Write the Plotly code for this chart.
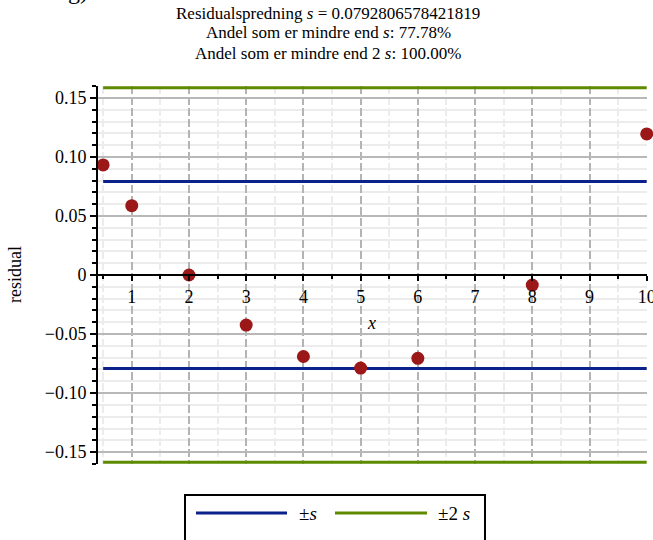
import plotly.graph_objects as go

# ---- data ----
s = 0.0792806578421819
x_vals = [0.5, 1, 2, 3, 4, 5, 6, 8, 10]
residuals = [0.0932, 0.0587, 0.0000, -0.0424, -0.0690, -0.0788, -0.0706, -0.0085, 0.1195]
line_x = [0.5, 10]
y_ticks = [-0.15, -0.10, -0.05, 0, 0.05, 0.10, 0.15]
y_ticktext = ["\u22120.15", "\u22120.10", "\u22120.05", "0", "0.05", "0.10", "0.15"]
title_lines = [
    "Residualspredning <i>s</i> = 0.0792806578421819",
    "Andel som er mindre end <i>s</i>: 77.78%",
    "Andel som er mindre end 2 <i>s</i>: 100.00%",
]
legend_labels = ["\u00b1<i>s</i>", "\u00b12 <i>s</i>"]

BLUE = "#0b228a"
GREEN = "#5e8a00"
RED = "#9c1818"
FONT = "'Liberation Serif', 'DejaVu Serif', serif"

W, H = 653, 540
L, R, T, B = 98, 6, 86, 76
pw, ph = W - L - R, H - T - B


def px2x(px):
    return (px - L) / pw


def px2y(py):
    return (H - B - py) / ph


fig = go.Figure()

# +-s lines
for sign in (1, -1):
    fig.add_trace(go.Scatter(x=line_x, y=[sign * s, sign * s], mode="lines",
                             line=dict(color=BLUE, width=3), showlegend=False,
                             hoverinfo="skip"))
# +-2s lines
for sign in (1, -1):
    fig.add_trace(go.Scatter(x=line_x, y=[sign * 2 * s, sign * 2 * s], mode="lines",
                             line=dict(color=GREEN, width=3), showlegend=False,
                             hoverinfo="skip"))
# residual points
fig.add_trace(go.Scatter(x=x_vals, y=residuals, mode="markers",
                         marker=dict(color=RED, size=13, symbol="circle", line=dict(width=0)),
                         cliponaxis=False, showlegend=False))

ymax = 2 * s + 0.0015

fig.update_layout(
    width=W, height=H, autosize=False,
    margin=dict(l=L, r=R, t=T, b=B, autoexpand=False),
    plot_bgcolor="white", paper_bgcolor="white",
    font=dict(family=FONT, size=18, color="black"),
    showlegend=False,
    xaxis=dict(
        range=[0.41, 10.005],
        tickmode="linear", tick0=0, dtick=1,
        showgrid=True, gridcolor="#b4b4b4", gridwidth=2, griddash="8px,3px",
        zeroline=False, automargin=False,
        showline=True, linecolor="black", linewidth=2,
        anchor="free", position=0.5, side="bottom",
        ticks="outside", ticklen=5, tickwidth=2, tickcolor="black",
        ticklabeloverflow="allow",
        tickfont=dict(family=FONT, size=18),
        minor=dict(dtick=0.5, tick0=0, showgrid=True, gridcolor="#ececec", gridwidth=2,
                   ticks="outside", ticklen=3, tickwidth=2, tickcolor="black"),
    ),
    yaxis=dict(
        range=[-ymax, ymax],
        tickmode="array", tickvals=y_ticks, ticktext=y_ticktext,
        showgrid=True, gridcolor="#b8b8b8", gridwidth=2,
        zeroline=False, automargin=False,
        showline=True, linecolor="black", linewidth=2,
        ticks="outside", ticklen=6, tickwidth=2, tickcolor="black",
        tickfont=dict(family=FONT, size=18),
        minor=dict(dtick=0.01, tick0=0, showgrid=True, gridcolor="#ececec", gridwidth=2,
                   ticks="outside", ticklen=4, tickwidth=2, tickcolor="black"),
    ),
)

ann = []
# title lines
for i, t in enumerate(title_lines):
    ann.append(dict(text=t, x=px2x(328), y=px2y(13 + 20 * i), xref="paper", yref="paper",
                    xanchor="center", yanchor="middle", showarrow=False,
                    font=dict(family=FONT, size=17)))
# axis labels
ann.append(dict(text="<i>x</i>", x=px2x(371), y=px2y(323), xref="paper", yref="paper",
                xanchor="center", yanchor="middle", showarrow=False,
                font=dict(family=FONT, size=18)))
ann.append(dict(text="residual", x=px2x(15), y=px2y(275), xref="paper", yref="paper",
                xanchor="center", yanchor="middle", showarrow=False, textangle=-90,
                font=dict(family=FONT, size=18)))
# cut-off panel label at top-left
ann.append(dict(text="g)", x=px2x(66), y=px2y(6), xref="paper", yref="paper",
                xanchor="left", yanchor="bottom", showarrow=False,
                font=dict(family=FONT, size=24)))
# legend text
ann.append(dict(text=legend_labels[0], x=px2x(297), y=px2y(513), xref="paper", yref="paper",
                xanchor="left", yanchor="middle", showarrow=False,
                font=dict(family=FONT, size=19)))
ann.append(dict(text=legend_labels[1], x=px2x(436), y=px2y(513), xref="paper", yref="paper",
                xanchor="left", yanchor="middle", showarrow=False,
                font=dict(family=FONT, size=19)))
fig.update_layout(annotations=ann)

shapes = [
    dict(type="rect", xref="paper", yref="paper",
         x0=px2x(185), x1=px2x(485), y0=px2y(560), y1=px2y(495),
         line=dict(color="black", width=2), fillcolor="rgba(0,0,0,0)"),
    dict(type="line", xref="paper", yref="paper",
         x0=px2x(196), x1=px2x(287), y0=px2y(513), y1=px2y(513),
         line=dict(color=BLUE, width=3)),
    dict(type="line", xref="paper", yref="paper",
         x0=px2x(335), x1=px2x(427), y0=px2y(513), y1=px2y(513),
         line=dict(color=GREEN, width=3)),
]
fig.update_layout(shapes=shapes)

fig.write_html("out.html")
